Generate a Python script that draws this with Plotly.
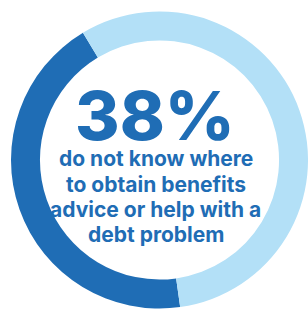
import plotly.graph_objects as go

# arc shares as drawn in the picture (dark arc, light arc)
segments = ["Do not know", "Other"]
arc_share = [43.6, 56.4]
colors = ["#1f6db5", "#b3e0f7"]
headline = "38%"
caption_lines = ["do not know where", "to obtain benefits", "advice or help with a", "debt problem"]

W, H = 308, 309
ML, MT = 11, 11
PW, PH = W - ML, H - MT


def px(x):
    return (x - ML) / PW


def py(y):
    return (H - y) / PH


fig = go.Figure(go.Pie(
    labels=segments, values=arc_share, hole=0.805, sort=False,
    direction="clockwise", rotation=172,
    marker=dict(colors=colors, line=dict(width=0)),
    textinfo="none", hoverinfo="skip", showlegend=False,
))
fig.add_annotation(x=px(155), y=py(115), xref="paper", yref="paper", text=headline,
                   showarrow=False, xanchor="center", yanchor="middle",
                   font=dict(family="Inter", size=68, color="#1f6db5", weight=800))
for i, line in enumerate(caption_lines):
    fig.add_annotation(x=px(155.5), y=py(159 + 25 * i), xref="paper", yref="paper", text=line,
                       showarrow=False, xanchor="center", yanchor="middle",
                       font=dict(family="Inter", size=21, color="#1f6db5", weight=700))
fig.update_layout(width=W, height=H, margin=dict(l=ML, r=0, t=MT, b=0),
                  paper_bgcolor="white", plot_bgcolor="white")
fig.write_html("out.html", config={"displayModeBar": False},
               post_script="document.body.style.margin='0';document.body.style.overflow='hidden';")
